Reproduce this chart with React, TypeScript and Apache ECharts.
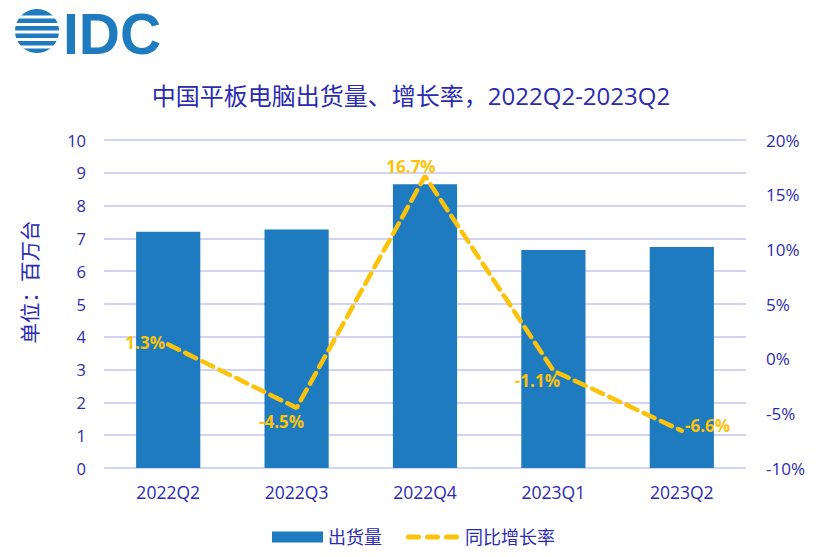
import React, { useEffect, useRef } from "react";
import * as echarts from "echarts";

const categories = ["2022Q2", "2022Q3", "2022Q4", "2023Q1", "2023Q2"];
const shipments = [7.2, 7.27, 8.65, 6.65, 6.74];
const growth = [1.3, -4.5, 16.7, -1.1, -6.6];
const growthLabelPos = ["left", "bottom", "top", "bottom", "right"];
const growthLabelOffset = [[0, -2], [-15, 2], [-14, 2], [-16, -2], [0, -5]];
const leftTicks = { min: 0, max: 10, interval: 1 };
const rightTicks = { min: -10, max: 20, interval: 5 };

const TEXT = "#2b2bb0";
const BAR = "#1f7bbf";
const GOLD = "#fcc30a";
const FONT = "'Open Sans', 'Noto Sans CJK SC', sans-serif";

function logoGraphics() {
  const cx = 37, cy = 31, r = 22;
  const els: any[] = [];
  els.push({ type: "circle", shape: { cx, cy, r }, style: { fill: BAR } });
  const gaps = [-14, -6.5, 1, 8.5, 16];
  gaps.forEach((g) => {
    els.push({
      type: "rect",
      shape: { x: cx - r - 2, y: cy + g - 1.4, width: 2 * r + 4, height: 2.8 },
      style: { fill: "#ffffff" },
    });
  });
  els.push({
    type: "text",
    left: 63,
    top: 5,
    style: { text: "IDC", fontSize: 57, fontFamily: "'Liberation Sans', Arial, sans-serif", fontWeight: "bold", fill: BAR },
  });
  els.push({
    type: "text",
    x: 30,
    y: 282,
    rotation: Math.PI / 2,
    style: {
      text: "单位：百万台",
      fontSize: 20.5,
      fontFamily: FONT,
      fill: TEXT,
      align: "center",
      verticalAlign: "middle",
    },
  });
  return els;
}

export default function App() {
  const ref = useRef<HTMLDivElement>(null);
  useEffect(() => {
    if (!ref.current) return;
    const chart = echarts.init(ref.current, null, { renderer: "svg" });
    chart.setOption({
      animation: false,
      backgroundColor: "#ffffff",
      textStyle: { fontFamily: FONT },
      title: {
        text: "中国平板电脑出货量、增长率，2022Q2-2023Q2",
        left: "center",
        top: 78,
        textStyle: { color: TEXT, fontSize: 24, fontWeight: "normal", fontFamily: FONT },
      },
      graphic: logoGraphics(),
      legend: [
        {
          top: 528,
          left: 272,
          padding: 0,
          itemWidth: 51,
          itemHeight: 11,
          textStyle: { color: TEXT, fontSize: 18, fontFamily: FONT },
          data: [{ name: "出货量", icon: "rect" }],
        },
        {
          top: 528,
          left: 406,
          padding: 0,
          itemWidth: 55,
          itemHeight: 5,
          textStyle: { color: TEXT, fontSize: 18, fontFamily: FONT },
          data: [
            {
              name: "同比增长率",
              icon: "path://M2 0H12A2 2 0 0 1 12 5H2A2 2 0 0 1 2 0Z M21 0H31A2 2 0 0 1 31 5H21A2 2 0 0 1 21 0Z M40 0H50A2 2 0 0 1 50 5H40A2 2 0 0 1 40 0Z",
              itemStyle: { color: GOLD, opacity: 1 },
            },
          ],
        },
      ],
      grid: { left: 104, right: 76, top: 140, bottom: 89 },
      xAxis: {
        type: "category",
        data: categories,
        axisLine: { show: false },
        axisTick: { show: false },
        axisLabel: { color: TEXT, fontSize: 17.5, margin: 15, fontFamily: FONT },
      },
      yAxis: [
        {
          type: "value",
          min: leftTicks.min,
          max: leftTicks.max,
          interval: leftTicks.interval,
          axisLine: { show: false },
          axisTick: { show: false },
          axisLabel: { color: TEXT, fontSize: 16.5, margin: 18, fontFamily: FONT },
          splitLine: { lineStyle: { color: "#c4c4f2", width: 1.5 } },
        },
        {
          type: "value",
          min: rightTicks.min,
          max: rightTicks.max,
          interval: rightTicks.interval,
          axisLine: { show: false },
          axisTick: { show: false },
          splitLine: { show: false },
          axisLabel: { color: TEXT, fontSize: 17, margin: 20, fontFamily: FONT, formatter: "{value}%" },
        },
      ],
      series: [
        {
          name: "出货量",
          type: "bar",
          data: shipments,
          barWidth: "50%",
          itemStyle: { color: BAR },
        },
        {
          name: "同比增长率",
          type: "line",
          yAxisIndex: 1,
          data: growth.map((v, i) => ({
            value: v,
            label: { position: growthLabelPos[i], offset: growthLabelOffset[i] },
          })),
          symbol: "circle",
          symbolSize: 0.5,
          showSymbol: true,
          lineStyle: { color: GOLD, width: 4.5, type: [12, 7], cap: "round" },
          itemStyle: { color: GOLD },
          label: {
            show: true,
            formatter: "{c}%",
            color: GOLD,
            fontSize: 17,
            fontWeight: "bold",
            fontFamily: FONT,
            distance: 3,
          },
        },
      ],
    });
    return () => chart.dispose();
  }, []);
  return <div ref={ref} style={{ width: 822, height: 557, position: "absolute", left: 0, top: 0 }} />;
}
